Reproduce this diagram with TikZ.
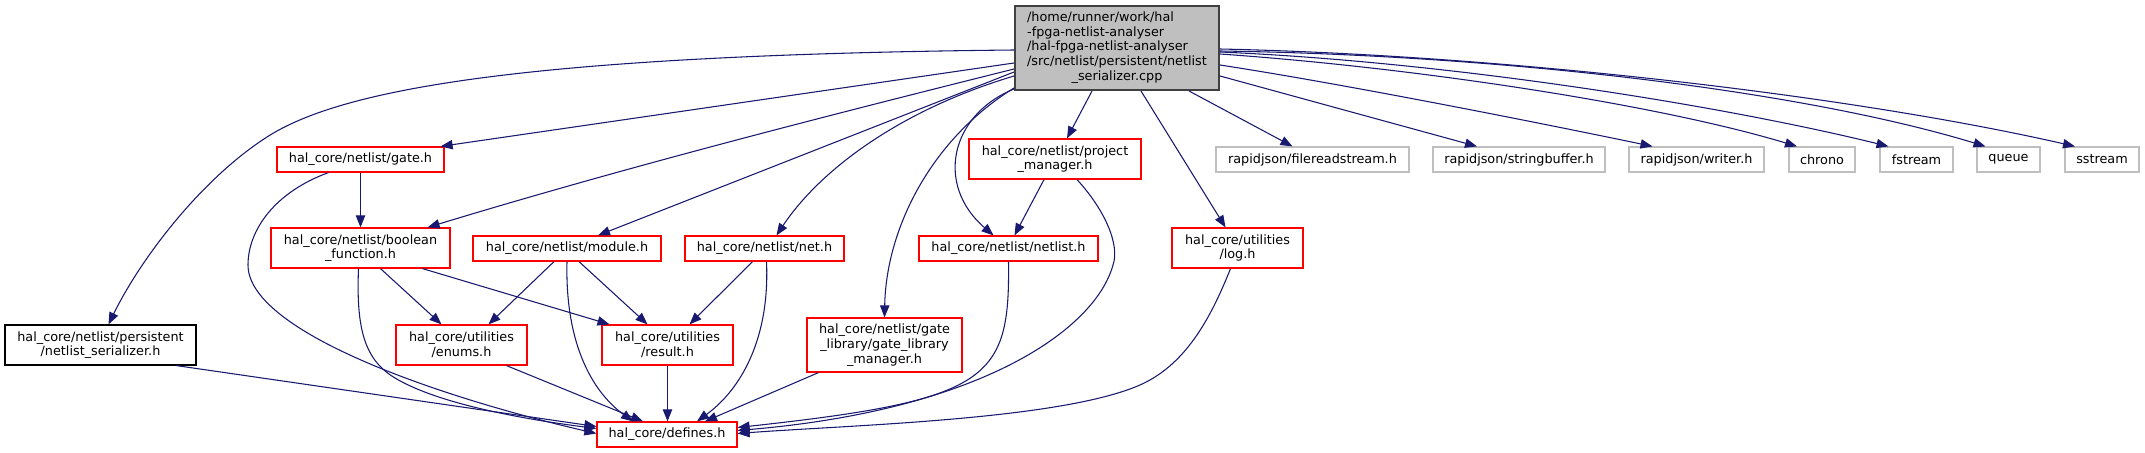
\documentclass[tikz,border=0pt]{standalone}
\usepackage{fontspec}
\newfontfamily\dv{DejaVu Sans}
\usetikzlibrary{arrows.meta,calc}
\definecolor{edgec}{HTML}{191970}
\definecolor{gbox}{HTML}{BFBFBF}
\definecolor{rootb}{HTML}{404040}
\begin{document}
\begin{tikzpicture}[x=0.75pt,y=-0.75pt,
 nbox/.style={draw=red, line width=0.9pt, inner sep=0pt, align=center, font=\dv\fontsize{9.6}{11}\selectfont},
 gbx/.style={nbox, draw=gbox},
 kbx/.style={nbox, draw=black},
 rbx/.style={nbox, draw=rootb, fill=gbox, line width=1.5pt},
 one/.style={minimum height=18.75pt},
 two/.style={minimum height=30pt},
 dep/.style={draw=edgec, line width=0.8pt, -{Triangle[length=9pt,width=7pt]}},
]
\fill[white] (0,0) rectangle (2145,453);
\useasboundingbox (0,0) rectangle (2145,453);

% nodes
\node[rbx, minimum width=153pt, minimum height=63pt] (root) at (1117,48)
 {\begin{tabular}{@{}l@{}}/home/runner/work/hal\\-fpga-netlist-analyser\\/hal-fpga-netlist-analyser\\/src/netlist/persistent/netlist\\\multicolumn{1}{@{}c@{}}{\_serializer.cpp}\end{tabular}};
\node[nbox, one, minimum width=125.25pt] (gate) at (360.5,159.5) {hal\_core/netlist/gate.h};
\node[nbox, two, minimum width=134.25pt] (bool) at (360.5,248) {hal\_core/netlist/boolean\\\_function.h};
\node[kbx, two, minimum width=143.25pt] (nser) at (100.5,345) {hal\_core/netlist/persistent\\/netlist\_serializer.h};
\node[nbox, two, minimum width=98.25pt] (enums) at (461.5,345) {hal\_core/utilities\\/enums.h};
\node[nbox, one, minimum width=141pt] (module) at (567,248.5) {hal\_core/netlist/module.h};
\node[nbox, two, minimum width=98.25pt] (result) at (667.5,345) {hal\_core/utilities\\/result.h};
\node[nbox, one, minimum width=119.25pt] (net) at (764.5,248.5) {hal\_core/netlist/net.h};
\node[nbox, minimum height=40.5pt, minimum width=116.25pt] (gml) at (884.5,345) {hal\_core/netlist/gate\\\_library/gate\_library\\\_manager.h};
\node[nbox, one, minimum width=105pt] (defines) at (667,434.5) {hal\_core/defines.h};
\node[nbox, one, minimum width=134.25pt] (netlist) at (1008.5,248.5) {hal\_core/netlist/netlist.h};
\node[nbox, two, minimum width=129pt] (pm) at (1055,159) {hal\_core/netlist/project\\\_manager.h};
\node[nbox, two, minimum width=98.25pt] (log) at (1237.5,248) {hal\_core/utilities\\/log.h};
\node[gbx, one, minimum width=144.75pt] (frs) at (1312.5,159.5) {rapidjson/filereadstream.h};
\node[gbx, one, minimum width=129pt] (sb) at (1519,159.5) {rapidjson/stringbuffer.h};
\node[gbx, one, minimum width=101.25pt] (writer) at (1696.5,159.5) {rapidjson/writer.h};
\node[gbx, one, minimum width=49.5pt] (chrono) at (1822,159.5) {chrono};
\node[gbx, one, minimum width=54.75pt] (fstream) at (1916.5,159.5) {fstream};
\node[gbx, one, minimum width=47.25pt] (queue) at (2008.5,159.5) {queue};
\node[gbx, one, minimum width=55.5pt] (sstream) at (2102,159.5) {sstream};

% edges from root
\draw[dep] ($(root.north west)+(0,45)$) .. controls (520,55) and (340,90) .. (267,137) .. controls (200,180) and (140,260) .. ($(nser.north)+(8,0)$);
\draw[dep] ($(root.north west)+(0,58)$) -- ($(gate.north east)+(-4,0)$);
\draw[dep] ($(root.north west)+(0,64)$) .. controls (818,118) and (623,168) .. ($(bool.north east)+(-23,0)$);
\draw[dep] ($(root.north west)+(0,67)$) -- ($(module.north)+(31,0)$);
\draw[dep] ($(root.north west)+(0,71)$) .. controls (900,110) and (820,170) .. ($(net.north)+(12,0)$);
\draw[dep] ($(root.south west)+(0,-3)$) .. controls (930,140) and (886,230) .. (gml.north);
\draw[dep] ($(root.south west)+(0,-2)$) .. controls (950,115) and (935,185) .. ($(netlist.north)+(-15,0)$);
\draw[dep] ($(root.south west)+(78,0)$) -- ($(pm.north)+(12,0)$);
\draw[dep] ($(root.south west)+(127,0)$) -- ($(log.north)+(-12,0)$);
\draw[dep] ($(root.south west)+(175,0)$) -- ($(frs.north)+(-20,0)$);
\draw[dep] ($(root.north east)+(0,71)$) -- ($(sb.north)+(-42,0)$);
\draw[dep] ($(root.north east)+(0,60)$) .. controls (1350,85) and (1550,125) .. ($(writer.north)+(-44,0)$);
\draw[dep] ($(root.north east)+(0,49)$) .. controls (1420,68) and (1660,105) .. ($(chrono.north)+(-25,0)$);
\draw[dep] ($(root.north east)+(0,47)$) .. controls (1450,62) and (1720,105) .. ($(fstream.north)+(-28,0)$);
\draw[dep] ($(root.north east)+(0,46)$) .. controls (1500,55) and (1800,90) .. ($(queue.north)+(-23,0)$);
\draw[dep] ($(root.north east)+(0,44)$) .. controls (1500,55) and (1850,95) .. ($(sstream.north)+(-27,0)$);

% other edges
\draw[dep] (gate.south) -- (bool.north);
\draw[dep] ($(gate.south)+(-32,0)$) .. controls (275,192) and (248,230) .. (248,265) .. controls (248,330) and (430,395) .. ($(defines.west)+(0,-1)$);
\draw[dep] ($(bool.south)+(-2,0)$) .. controls (356,330) and (365,360) .. (395,378) .. controls (440,405) and (530,420) .. ($(defines.west)+(0,-6)$);
\draw[dep] ($(nser.south)+(76,0)$) -- ($(defines.west)+(0,-8)$);
\draw[dep] ($(bool.south)+(20,0)$) -- ($(enums.north)+(-20,0)$);
\draw[dep] ($(bool.south)+(62,0)$) -- ($(result.north)+(-58,0)$);
\draw[dep] ($(module.south)+(-13,0)$) -- ($(enums.north)+(27,0)$);
\draw[dep] ($(module.south)+(12,0)$) -- ($(result.north)+(-20,0)$);
\draw[dep] (module.south) .. controls (565,340) and (590,390) .. ($(defines.north)+(-34,0)$);
\draw[dep] (result.south) -- (result.south |- defines.north);
\draw[dep] ($(enums.south)+(45,0)$) -- ($(defines.north)+(-24,0)$);
\draw[dep] ($(net.south)+(-12,0)$) -- ($(result.north)+(22,0)$);
\draw[dep] ($(net.south)+(2,0)$) .. controls (770,340) and (740,390) .. ($(defines.north)+(30,0)$);
\draw[dep] ($(gml.south)+(-66,0)$) -- ($(defines.north)+(38,0)$);
\draw[dep] (netlist.south) .. controls (1010,380) and (990,400) .. ($(defines.east)+(0,-7)$);
\draw[dep] ($(pm.south)+(-11,0)$) -- ($(netlist.north)+(6,0)$);
\draw[dep] ($(pm.south)+(22,0)$) .. controls (1105,210) and (1120,245) .. (1113,265) .. controls (1095,330) and (980,410) .. ($(defines.east)+(0,-4)$);
\draw[dep] ($(log.south)+(-7,0)$) .. controls (1210,320) and (1185,365) .. (1140,385) .. controls (1060,420) and (850,425) .. ($(defines.east)+(0,-1)$);
\end{tikzpicture}
\end{document}
